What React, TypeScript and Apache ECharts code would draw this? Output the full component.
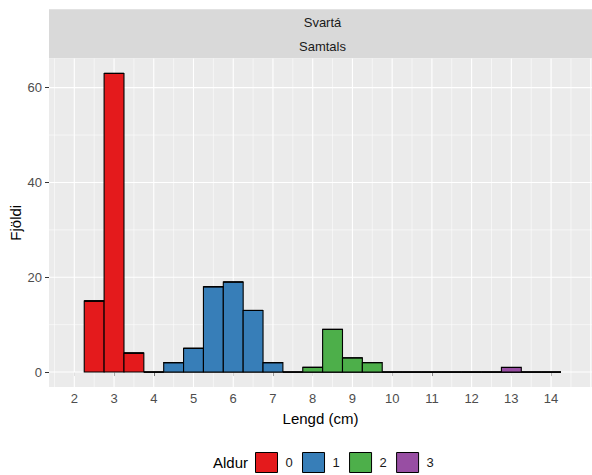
import React, { useEffect, useRef } from "react";
import * as echarts from "echarts";

// Histogram bins (centres, cm) and counts per age group (Aldur)
const binCenters = [2.5, 3, 3.5, 4, 4.5, 5, 5.5, 6, 6.5, 7, 7.5, 8, 8.5, 9, 9.5, 10, 10.5, 11, 11.5, 12, 12.5, 13, 13.5, 14];
const ageGroups = ["0", "1", "2", "3"];
const age0 = [15, 63, 4, 0, 0, 0, 0, 0, 0, 0, 0, 0, 0, 0, 0, 0, 0, 0, 0, 0, 0, 0, 0, 0];
const age1 = [0, 0, 0, 0, 2, 5, 18, 19, 13, 2, 0, 0, 0, 0, 0, 0, 0, 0, 0, 0, 0, 0, 0, 0];
const age2 = [0, 0, 0, 0, 0, 0, 0, 0, 0, 0, 0, 1, 9, 3, 2, 0, 0, 0, 0, 0, 0, 0, 0, 0];
const age3 = [0, 0, 0, 0, 0, 0, 0, 0, 0, 0, 0, 0, 0, 0, 0, 0, 0, 0, 0, 0, 0, 1, 0, 0];
const ageCounts = [age0, age1, age2, age3];
const BIN_WIDTH = 0.5;

const xTickLabels = [2, 3, 4, 5, 6, 7, 8, 9, 10, 11, 12, 13, 14];
const xMajorGrid = [2, 3, 4, 5, 6, 7, 8, 9, 10, 11, 12, 13, 14, 15];
const xMinorGrid = [1.5, 2.5, 3.5, 4.5, 5.5, 6.5, 7.5, 8.5, 9.5, 10.5, 11.5, 12.5, 13.5, 14.5];
const yTickLabels = [0, 20, 40, 60];
const yMinorGrid = [10, 30, 50];

const palette = ["#E41A1C", "#377EB8", "#4DAF4A", "#984EA3"];
const FONT = "'Liberation Sans', Arial, sans-serif";

export default function App() {
  const ref = useRef<HTMLDivElement>(null);
  useEffect(() => {
    const chart = echarts.init(ref.current!, null, { renderer: "svg" });

    // stacked bases
    const bases: number[][] = [];
    ageCounts.forEach((arr, gi) => {
      bases.push(arr.map((_, i) => (gi === 0 ? 0 : bases[gi - 1][i] + ageCounts[gi - 1][i])));
    });

    const gridData: number[][] = [
      ...xMajorGrid.map((v) => [0, v, 1]),
      ...xMinorGrid.map((v) => [0, v, 0]),
      ...yTickLabels.map((v) => [1, v, 1]),
      ...yMinorGrid.map((v) => [1, v, 0]),
    ];

    const gridSeries: any = {
      type: "custom",
      name: "gridlines",
      z: 1,
      silent: true,
      data: gridData,
      encode: { x: 1, y: 1 },
      renderItem: (params: any, api: any) => {
        const cs = params.coordSys;
        const dir = api.value(0);
        const v = api.value(1);
        const major = api.value(2) === 1;
        const lw = major ? 1.1 : 0.55;
        if (dir === 0) {
          const x = api.coord([v, 0])[0];
          return { type: "line", shape: { x1: x, y1: cs.y, x2: x, y2: cs.y + cs.height }, style: { stroke: "#FFFFFF", lineWidth: lw } };
        }
        const y = api.coord([2, v])[1];
        return { type: "line", shape: { x1: cs.x, y1: y, x2: cs.x + cs.width, y2: y }, style: { stroke: "#FFFFFF", lineWidth: lw } };
      },
    };

    const barSeries: any[] = ageGroups.map((name, gi) => ({
      type: "custom",
      name,
      z: 2,
      itemStyle: { color: palette[gi], borderColor: "#000", borderWidth: 1 },
      encode: { x: 0, y: 2 },
      data: binCenters.map((b, i) => [b, bases[gi][i], ageCounts[gi][i]]),
      renderItem: (params: any, api: any) => {
        const x = api.value(0);
        const base = api.value(1);
        const v = api.value(2);
        const p0 = api.coord([x - BIN_WIDTH / 2, base]);
        const p1 = api.coord([x + BIN_WIDTH / 2, base + v]);
        if (v === 0) {
          return { type: "line", shape: { x1: p0[0], y1: p0[1], x2: p1[0], y2: p0[1] }, style: { stroke: "#000", lineWidth: 1.1 } };
        }
        return {
          type: "rect",
          shape: { x: p0[0], y: p1[1], width: p1[0] - p0[0], height: p0[1] - p1[1] },
          style: { fill: palette[gi], stroke: "#000", lineWidth: 1.1 },
        };
      },
    }));

    const option: any = {
      animation: false,
      textStyle: { fontFamily: FONT },
      grid: {
        left: 49,
        right: 0,
        top: 58.5,
        bottom: 88,
        show: true,
        backgroundColor: "#EBEBEB",
        borderWidth: 0,
        containLabel: false,
        outerBoundsMode: "none",
      },
      xAxis: {
        type: "value",
        min: 1.363,
        max: 15.03,
        axisLine: { show: false },
        splitLine: { show: false },
        minorSplitLine: { show: false },
        axisTick: { show: true, customValues: xTickLabels, length: 4, lineStyle: { color: "#333333", width: 1 } },
        axisLabel: { customValues: xTickLabels, color: "#4D4D4D", fontSize: 13, margin: 5, fontFamily: FONT },
        name: "Lengd (cm)",
        nameLocation: "middle",
        nameGap: 24,
        nameMoveOverlap: false,
        nameTextStyle: { fontSize: 15, color: "#000", fontFamily: FONT },
      },
      yAxis: {
        type: "value",
        min: -3.15,
        max: 66.15,
        axisLine: { show: false },
        splitLine: { show: false },
        axisTick: { show: true, customValues: yTickLabels, length: 4, lineStyle: { color: "#333333", width: 1 } },
        axisLabel: { customValues: yTickLabels, color: "#4D4D4D", fontSize: 13, margin: 7, fontFamily: FONT },
        name: "Fjöldi",
        nameLocation: "middle",
        nameGap: 26,
        nameMoveOverlap: false,
        nameTextStyle: { fontSize: 15, color: "#000", fontFamily: FONT },
      },
      legend: {
        data: ageGroups.map((n, gi) => ({
          name: n,
          icon: "rect",
          itemStyle: { color: palette[gi], borderColor: "#000", borderWidth: 1 },
        })),
        left: 255,
        top: 452,
        padding: 0,
        orient: "horizontal",
        itemWidth: 22,
        itemHeight: 20,
        itemGap: 9.3,
        selectedMode: false,
        textStyle: { fontSize: 13, color: "#1A1A1A", padding: [0, 0, 0, 3], fontFamily: FONT },
      },
      graphic: [
        { type: "rect", silent: true, z: 0, shape: { x: 49, y: 9.3, width: 547, height: 49 }, style: { fill: "#D9D9D9" } },
        { type: "text", silent: true, z: 5, x: 322.5, y: 22.5, style: { text: "Svartá", fill: "#1A1A1A", font: `13px ${FONT}`, textAlign: "center", textVerticalAlign: "middle" } },
        { type: "text", silent: true, z: 5, x: 322.5, y: 46.5, style: { text: "Samtals", fill: "#1A1A1A", font: `13px ${FONT}`, textAlign: "center", textVerticalAlign: "middle" } },
        { type: "text", silent: true, z: 5, x: 213, y: 462.5, style: { text: "Aldur", fill: "#000", font: `15px ${FONT}`, textAlign: "left", textVerticalAlign: "middle" } },
      ],
      series: [gridSeries, ...barSeries],
    };

    chart.setOption(option);
    return () => chart.dispose();
  }, []);

  return <div ref={ref} style={{ position: "absolute", left: 0, top: 0, width: 592, height: 475 }} />;
}
